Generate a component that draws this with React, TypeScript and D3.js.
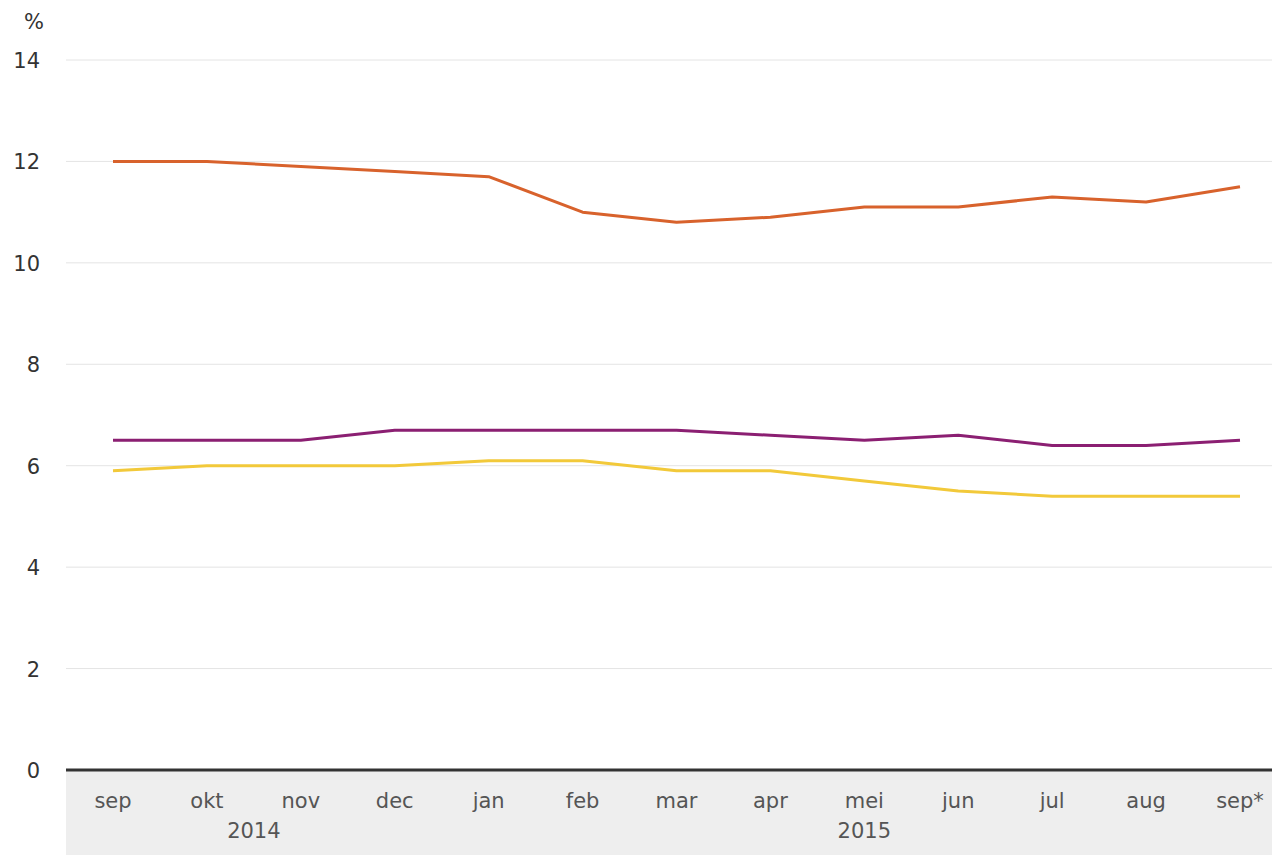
import React from "react";
import * as d3 from "d3";

const months = ["sep", "okt", "nov", "dec", "jan", "feb", "mar", "apr", "mei", "jun", "jul", "aug", "sep*"];
const years = [
  { label: "2014", from: 0, to: 3 },
  { label: "2015", from: 4, to: 12 },
];
const orangeSeries = [12.0, 12.0, 11.9, 11.8, 11.7, 11.0, 10.8, 10.9, 11.1, 11.1, 11.3, 11.2, 11.5];
const purpleSeries = [6.5, 6.5, 6.5, 6.7, 6.7, 6.7, 6.7, 6.6, 6.5, 6.6, 6.4, 6.4, 6.5];
const yellowSeries = [5.9, 6.0, 6.0, 6.0, 6.1, 6.1, 5.9, 5.9, 5.7, 5.5, 5.4, 5.4, 5.4];
const yTicks = [0, 2, 4, 6, 8, 10, 12, 14];

const series = [
  { name: "orange", values: orangeSeries, color: "#d8622c" },
  { name: "purple", values: purpleSeries, color: "#8b1f72" },
  { name: "yellow", values: yellowSeries, color: "#f2c93a" },
];

const W = 1272;
const H = 855;
const left = 66;
const right = 1272;
const top = 60;
const bottom = 770;
const font = "'DejaVu Sans', Verdana, sans-serif";

export default function App() {
  const x = d3.scalePoint<string>().domain(months).range([113, 1240]).padding(0);
  const y = d3.scaleLinear().domain([0, 14]).range([bottom, top]);
  const line = d3
    .line<number>()
    .x((_, i) => x(months[i]) as number)
    .y((d) => y(d));

  return (
    <svg
      width={W}
      height={H}
      style={{ position: "absolute", left: 0, top: 0, background: "#fff" }}
      fontFamily={font}
    >
      <rect x={left} y={bottom} width={right - left} height={H - bottom} fill="#eeeeee" />
      {yTicks.map((t) =>
        t === 0 ? null : (
          <line key={t} x1={left} x2={right} y1={y(t)} y2={y(t)} stroke="#e4e4e4" strokeWidth={1} />
        )
      )}
      {yTicks.map((t) => (
        <text key={"l" + t} x={40} y={y(t) + 8} textAnchor="end" fontSize={21} fill="#333">
          {t}
        </text>
      ))}
      <text x={34} y={29} textAnchor="middle" fontSize={21} fill="#333">
        %
      </text>
      {series.map((s) => (
        <path
          key={s.name}
          d={line(s.values) || ""}
          fill="none"
          stroke={s.color}
          strokeWidth={3}
          strokeLinejoin="round"
        />
      ))}
      <line x1={left} x2={right} y1={bottom} y2={bottom} stroke="#333" strokeWidth={3} />
      {months.map((m) => (
        <text key={m} x={x(m)} y={808} textAnchor="middle" fontSize={21} fill="#555">
          {m}
        </text>
      ))}
      {years.map((yr) => (
        <text
          key={yr.label}
          x={((x(months[yr.from]) as number) + (x(months[yr.to]) as number)) / 2}
          y={838}
          textAnchor="middle"
          fontSize={21}
          fill="#555"
        >
          {yr.label}
        </text>
      ))}
    </svg>
  );
}
